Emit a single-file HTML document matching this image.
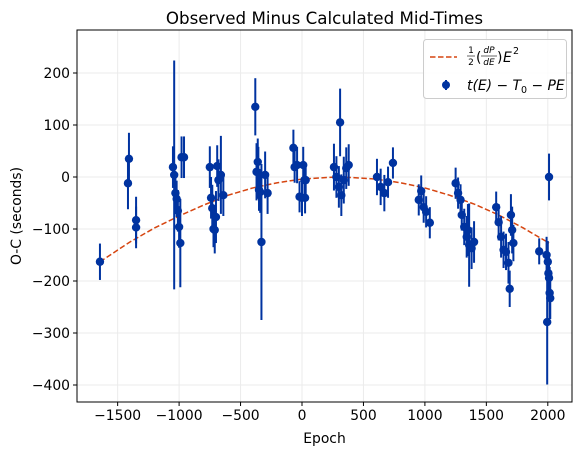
<!DOCTYPE html>
<html><head><meta charset="utf-8"><style>
body{margin:0;background:#fff;font-family:"Liberation Sans","DejaVu Sans",sans-serif}
svg text{font-family:"DejaVu Sans","Liberation Sans",sans-serif}
</style></head><body>
<svg id="chart" width="583" height="455" viewBox="0 0 583 455" xmlns="http://www.w3.org/2000/svg">
<rect width="583" height="455" fill="#fff"/>
<g id="grid"></g>
<g id="xaxis"></g>
<g id="yaxis"></g>
<g id="model"></g>
<g id="pts"></g>
<rect x="77" y="30" width="495" height="372" fill="none" stroke="#000" stroke-width="1"/>
<text x="324.5" y="24" text-anchor="middle" font-size="16.7">Observed Minus Calculated Mid-Times</text>
<text x="324.5" y="443" text-anchor="middle" font-size="13.9">Epoch</text>
<text transform="translate(21,216) rotate(-90)" text-anchor="middle" font-size="13.9">O-C (seconds)</text>
<g>
<rect x="423.5" y="39.5" width="143" height="59" rx="3" fill="#fff" fill-opacity="0.85" stroke="#ccc"/>
<line x1="430" y1="57" x2="457" y2="57" stroke="#d64510" stroke-width="1.5" stroke-dasharray="5.5,2.5"/>
<g font-size="13.9" font-style="italic">
<text x="471" y="53" font-size="9" font-style="normal" text-anchor="middle">1</text>
<line x1="467" y1="56" x2="475" y2="56" stroke="#000" stroke-width="0.6"/>
<text x="471" y="65" font-size="9" font-style="normal" text-anchor="middle">2</text>
<text x="476" y="62" font-style="normal">(</text>
<text x="489" y="53" font-size="9" text-anchor="middle">dP</text>
<line x1="481" y1="56" x2="497" y2="56" stroke="#000" stroke-width="0.6"/>
<text x="489" y="65" font-size="9" text-anchor="middle">dE</text>
<text x="497" y="62" font-style="normal">)</text>
<text x="503" y="62">E</text>
<text x="513" y="54" font-size="9.5" font-style="normal">2</text>
</g>
<line x1="446" y1="80" x2="446" y2="90" stroke="#0033a0" stroke-width="2"/>
<circle cx="446" cy="85" r="4" fill="#0033a0"/>
<text x="467" y="90" font-size="13.9" font-style="italic">t(E) − T<tspan font-size="9.5" dy="3" font-style="normal">0</tspan><tspan dy="-3"> − PE</tspan></text>
</g>
</svg>
<script>
const xTicks=[-1500,-1000,-500,0,500,1000,1500,2000];
const yTicks=[-400,-300,-200,-100,0,100,200];
const epochs=[-1644,-1408,-1416,-1350,-1350,-1050,-1040,-1030,-1020,-1010,-1000,-990,-980,-960,
-750,-740,-730,-720,-710,-700,-690,-680,-660,-640,
-380,-370,-360,-355,-350,-340,-330,-300,-280,
-70,-60,-40,-20,0,30,10,20,25,
310,260,280,300,320,340,360,380,
610,640,670,700,740,
950,970,990,1010,1040,
1250,1270,1290,1300,1320,1340,1360,1380,1350,1400,
1580,1600,1620,1640,1660,1680,1690,1700,1710,1720,
1930,2010,1990,2000,2005,2010,2015,2020,1995];
const ocValues=[-163,35,-12,-83,-97,19,4,-31,-42,-65,-96,-127,38,38,
19,-40,-60,-100,-102,-77,21,-6,4,-35,
135,10,29,8,-25,-29,-125,4,-31,
56,19,23,-38,-40,-6,23,-6,-40,
105,19,0,-19,-35,-6,17,23,
0,-19,-31,-10,27,
-44,-27,-58,-67,-88,
-12,-31,-44,-73,-96,-115,-131,-137,-102,-125,
-58,-87,-115,-140,-144,-165,-215,-73,-102,-127,
-143,0,-150,-163,-185,-194,-223,-233,-279];
const ocErrors=[35,50,50,45,40,40,220,35,35,40,40,85,40,40,
40,40,45,35,45,50,40,40,75,40,
55,55,45,50,40,40,150,45,40,
35,30,35,30,35,30,35,30,30,
65,45,40,40,40,45,40,40,35,35,35,30,30,
30,30,30,30,30,
30,30,30,30,35,40,80,40,50,40,
30,35,40,35,35,40,35,40,45,35,
25,45,35,40,40,45,50,40,120];
const modelEpochs=[-1644,-1400,-1200,-1000,-800,-600,-400,-200,0,200,300,400,600,800,1000,1200,1400,1600,1800,2010];
const modelValues=[-163,-125,-98,-75,-54,-35,-21,-11,-4,-1,0,-1,-4,-11,-21,-35,-52,-73,-98,-127];
const NS='http://www.w3.org/2000/svg';
const X=e=>302+(e)*0.1229;
const Y=v=>177-v*0.52;
function mk(t,a,p){const el=document.createElementNS(NS,t);for(const k in a)el.setAttribute(k,a[k]);p.appendChild(el);return el;}
const grid=document.getElementById('grid'),xa=document.getElementById('xaxis'),ya=document.getElementById('yaxis');
xTicks.forEach(t=>{const x=X(t);
const g=mk('line',{x1:x,x2:x,y1:30,y2:402,stroke:'#ebebeb','stroke-width':1},grid);


mk('line',{x1:x,x2:x,y1:402,y2:406,stroke:'#000'},xa);
const tx=mk('text',{x:x,y:420,'text-anchor':'middle','font-size':13.9},xa);


tx.textContent=String(t).replace('-','−');});
yTicks.forEach(t=>{const y=Y(t);
const g=mk('line',{x1:77,x2:572,y1:y,y2:y,stroke:'#ebebeb','stroke-width':1},grid);


mk('line',{x1:73,x2:77,y1:y,y2:y,stroke:'#000'},ya);
const tx=mk('text',{x:70,y:y+5,'text-anchor':'end','font-size':13.9},ya);


tx.textContent=String(t).replace('-','−');});
const path=mk('path',{d:modelEpochs.map((e,i)=>(i?'L':'M')+X(e)+','+Y(modelValues[i])).join(' '),fill:'none',stroke:'#d64510','stroke-width':1.5,'stroke-dasharray':'5.5,2.5'},document.getElementById('model'));


const pts=document.getElementById('pts');
epochs.forEach((e,i)=>{const x=X(e),v=ocValues[i],er=ocErrors[i];
const l=mk('line',{x1:x,x2:x,y1:Y(v+er),y2:Y(v-er),stroke:'#0033a0','stroke-width':2},pts);

});
epochs.forEach((e,i)=>{const c=mk('circle',{cx:X(e),cy:Y(ocValues[i]),r:4.2,fill:'#0033a0'},pts);

});
</script>
</body></html>
